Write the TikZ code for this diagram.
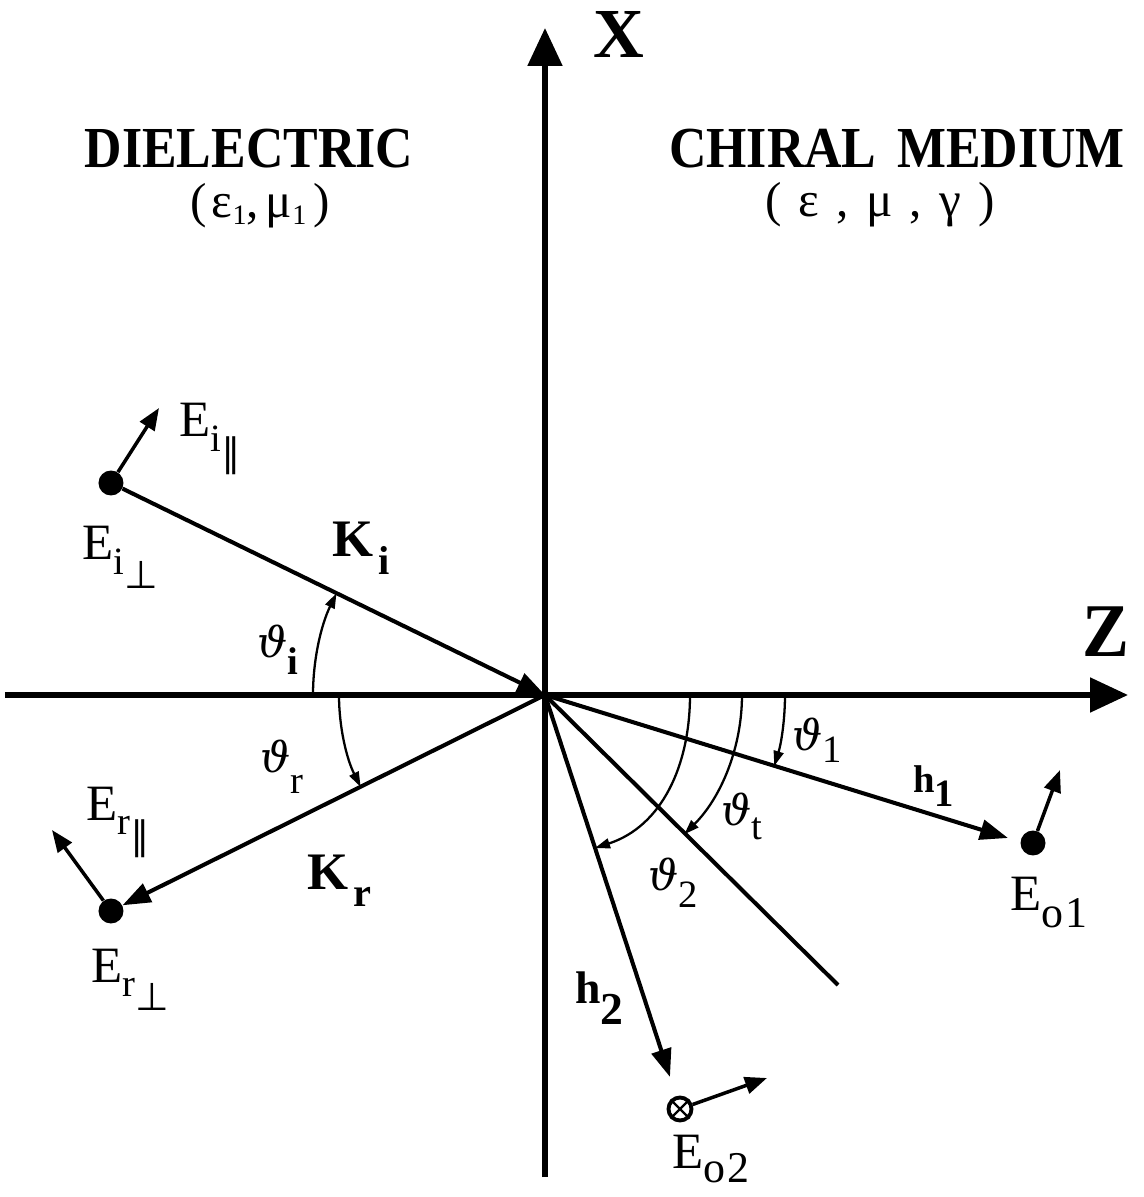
\documentclass[tikz,border=0pt]{standalone}
\usepackage{fontspec}
\setmainfont{Liberation Serif}
\newfontfamily\dvs{DejaVu Serif}
\newfontfamily\dvsym{DejaVu Sans}
\usetikzlibrary{arrows.meta}
\newcommand\fE{\fontsize{29}{30}\selectfont}
\newcommand\fS{\fontsize{22}{22}\selectfont}
\newcommand\fT{\fontsize{24}{24}\selectfont}
\newcommand\thv{{\dvs\itshape ϑ}}
\newcommand\parl{{\dvsym ∥}}
\newcommand\perpd{{\dvsym ⊥}}
\newcommand\subone{\raisebox{-4pt}{\fontsize{16}{16}\selectfont 1}}
\begin{document}
\begin{tikzpicture}[x=0.02cm,y=0.02cm,
  axis/.style={line width=3pt,-{Triangle[length=0.76cm,width=0.68cm]}},
  ray/.style={line width=2.3pt},
  raytip/.style={-{Triangle[length=0.56cm,width=0.4cm]}},
  arcl/.style={line width=1.3pt,-{Triangle[length=0.3cm,width=0.2cm]}},
  field/.style={line width=2pt,-{Triangle[length=0.44cm,width=0.34cm]}},
  dot/.style={circle,fill,inner sep=0pt,minimum size=0.5cm},
  lbl/.style={inner sep=0pt,anchor=base west,font=\fE},
  bl/.style={inner sep=0pt,anchor=base west},
  title/.style={inner sep=0pt,font=\fontsize{29.5}{30}\selectfont\bfseries},
  param/.style={inner sep=0pt,font=\fontsize{28}{28}\selectfont},
  axlbl/.style={inner sep=0pt,font=\fontsize{40}{40}\selectfont\bfseries}]
\path[use as bounding box] (-545,-502) rectangle (598,695);
% axes
\coordinate (O) at (0,0);
\coordinate (zl) at (-540,0);
\coordinate (zr) at (583,0);
\coordinate (xb) at (0,-482);
\coordinate (xt) at (0,667);
\draw[axis] (zl) -- (zr);
\draw[axis] (xb) -- (xt);
\node[axlbl] (lX) at (74,661) {X};
\node[axlbl] (lZ) at (561,63) {\scalebox{1}[1.08]{Z}};
% titles
\node[title] (tD) at (-296,546) {\scalebox{1}[1.12]{DIELECTRIC}};
\node[param] (pD) at (-285,489) {(\kern3pt ε\subone,\kern4pt μ\subone\kern4pt)};
\node[title] (tC) at (352,546) {\scalebox{1}[1.12]{CHIRAL\hspace{0.4em}MEDIUM}};
\node[param] (pC) at (335,490) {(\hspace{0.35em}ε\hspace{0.35em},\hspace{0.35em}μ\hspace{0.35em},\hspace{0.35em}γ\hspace{0.35em})};
% incident
\node[dot] (ei) at (-434,212) {};
\draw[ray,raytip] (ei) -- (O);
\coordinate (eipar) at (-386,287);
\draw[field] (ei) -- (eipar);
\node[lbl] (lEip) at (-366,258) {E\raisebox{-8pt}{\fS i\raisebox{-9pt}{\parl}}};
\node[lbl] (lEis) at (-463,135) {E\raisebox{-8pt}{\fS i\raisebox{-8pt}{\perpd}}};
\node[bl,font=\fontsize{30}{30}\selectfont\bfseries] (lKi) at (-213,138) {K\kern3pt\raisebox{-10pt}{\fontsize{23}{23}\selectfont i}};
\coordinate (ai) at (-232,0);
\draw[arcl] (ai) arc[start angle=180,end angle=154,radius=232];
\node[bl,font=\fT] (lTi) at (-288,38) {\thv\raisebox{-10pt}{\fontsize{22}{22}\selectfont\bfseries i}};
% reflected
\node[dot] (er) at (-434,-216) {};
\draw[ray,raytip] (O) -- (er);
\coordinate (erpar) at (-493,-135);
\draw[field] (er) -- (erpar);
\node[lbl] (lErp) at (-459,-125) {E\raisebox{-8pt}{\fS r\raisebox{-9pt}{\parl}}};
\node[lbl] (lErs) at (-454,-287) {E\raisebox{-8pt}{\fS r\raisebox{-8pt}{\perpd}}};
\node[bl,font=\fontsize{30}{30}\selectfont\bfseries] (lKr) at (-238,-194) {K\kern3pt\raisebox{-10pt}{\fontsize{23}{23}\selectfont r}};
\coordinate (ar) at (-206,0);
\draw[arcl] (ar) arc[start angle=180,end angle=206.5,radius=206];
\node[bl,font=\fT] (lTr) at (-285,-77) {\thv\raisebox{-12pt}{\fontsize{22}{22}\selectfont r}};
% transmitted h1
\coordinate (h1e) at (463,-143);
\draw[ray,raytip] (O) -- (h1e);
\node[dot] (eo1) at (488,-148) {};
\coordinate (eo1f) at (515,-75);
\draw[field] (eo1) -- (eo1f);
\node[bl,font=\fontsize{22}{22}\selectfont\bfseries] (lh1) at (368,-97) {h\raisebox{-8pt}{1}};
\node[lbl] (lEo1) at (465,-215) {E\raisebox{-10pt}{\fontsize{25}{25}\selectfont o\kern1pt 1}};
\coordinate (a1) at (240,0);
\draw[arcl] (a1) arc[start angle=0,end angle=-17.2,radius=240];
\node[bl,font=\fT] (lT1) at (247,-55) {\thv\raisebox{-7pt}{\fontsize{22}{22}\selectfont 1}};
% transmitted bisector
\coordinate (te) at (293,-290);
\draw[ray] (O) -- (te);
\coordinate (at) at (197,0);
\draw[arcl] (at) arc[start angle=0,end angle=-45,radius=197];
\node[bl,font=\fT] (lTt) at (176,-130) {\thv\raisebox{-8pt}{\fontsize{22}{22}\selectfont t}};
% transmitted h2
\coordinate (h2e) at (125,-382);
\draw[ray,raytip] (O) -- (h2e);
\node[circle,draw,line width=2.2pt,minimum size=0.46cm,inner sep=0pt] (eo2) at (135,-414) {};
\draw[line width=1.3pt] (eo2.45) -- (eo2.225) (eo2.135) -- (eo2.315);
\coordinate (eo2f) at (222,-383);
\draw[field] (eo2) -- (eo2f);
\node[bl,font=\fontsize{26}{26}\selectfont\bfseries] (lh2) at (30,-308) {h\raisebox{-12pt}{2}};
\node[lbl] (lEo2) at (127,-473) {E\raisebox{-8pt}{\fontsize{25}{25}\selectfont o\kern1pt 2}};
\coordinate (a2s) at (145,0);
\coordinate (a2e) at (50,-153);
\draw[arcl] (a2s) to[out=-90,in=18] (a2e);
\node[bl,font=\fT] (lT2) at (103,-195) {\thv\raisebox{-10pt}{\fontsize{22}{22}\selectfont 2}};
\end{tikzpicture}
\end{document}
